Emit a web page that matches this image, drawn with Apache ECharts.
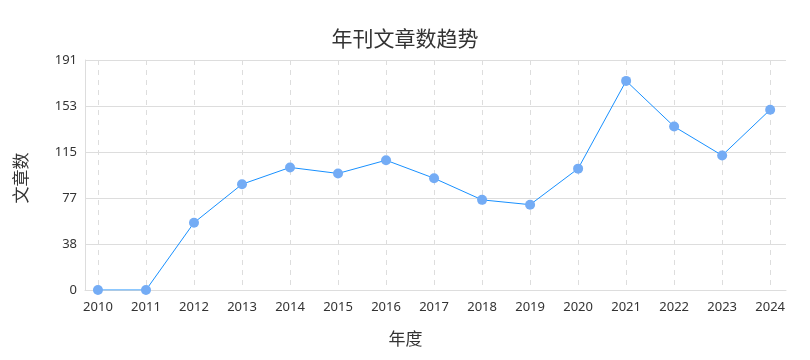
<!DOCTYPE html>
<html>
<head>
<meta charset="utf-8">
<script src="https://cdn.jsdelivr.net/npm/echarts@6/dist/echarts.min.js"></script>
<style>
  html, body { margin: 0; padding: 0; background: #fff; }
  #chart { width: 810px; height: 360px; }
</style>
</head>
<body>
<div id="chart"></div>
<script>
var years = [2010, 2011, 2012, 2013, 2014, 2015, 2016, 2017, 2018, 2019, 2020, 2021, 2022, 2023, 2024];
var counts = [0, 0, 56, 88, 102, 97, 108, 93, 75, 71, 101, 174, 136, 112, 150];
var yMax = 191.4;
var yStep = 38.28;

var chart = echarts.init(document.getElementById('chart'));
var pts = [];
for (var i = 0; i < years.length; i++) {
  pts.push([years[i], counts[i]]);
}
var option = {
  title: {
    text: '年刊文章数趋势',
    left: 'center',
    top: 23,
    textStyle: { fontSize: 21, fontWeight: 'normal', color: '#333', fontFamily: 'Noto Sans CJK SC' }
  },
  grid: { left: 85, right: 24, top: 60, bottom: 70 },
  xAxis: {
    type: 'value',
    min: 2009.73,
    max: 2024.33,
    name: '年度',
    nameLocation: 'middle',
    nameGap: 40,
    nameTextStyle: { fontSize: 17, color: '#333', fontFamily: 'Noto Sans CJK SC', padding: [0, 60, 0, 0] },
    axisLine: { show: true, lineStyle: { color: '#ddd' } },
    axisTick: { show: false, customValues: years },
    axisLabel: {
      customValues: years, color: '#333', fontSize: 13, margin: 11, fontFamily: 'Noto Sans',
      formatter: function (v) { return String(v); }
    },
    splitLine: { show: true, lineStyle: { color: '#ddd', type: [5, 5] } }
  },
  yAxis: {
    type: 'value',
    min: 0,
    max: yMax,
    interval: yStep,
    name: '文章数',
    nameLocation: 'middle',
    nameGap: 56,
    nameTextStyle: { fontSize: 17, color: '#333', fontFamily: 'Noto Sans CJK SC', padding: [0, 6, 0, 0] },
    axisLine: { show: true, lineStyle: { color: '#ddd' } },
    axisTick: { show: false },
    axisLabel: {
      color: '#333', fontSize: 13, margin: 8, fontFamily: 'Noto Sans',
      formatter: function (v) { return Math.round(v); }
    },
    splitLine: { show: true, lineStyle: { color: '#ddd' } }
  },
  series: [{
    type: 'line',
    data: pts,
    symbol: 'circle',
    symbolSize: 10,
    lineStyle: { color: '#1890ff', width: 1 },
    itemStyle: { color: '#74acf5' }
  }]
};
chart.setOption(option);
</script>
</body>
</html>
